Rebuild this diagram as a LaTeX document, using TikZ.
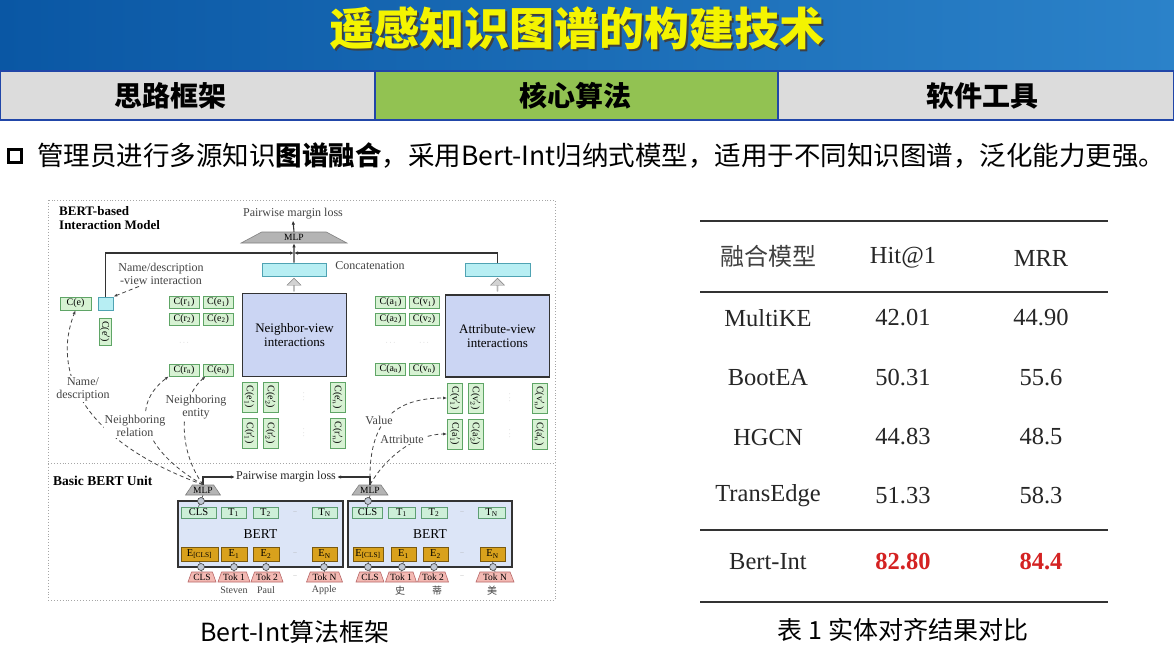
\documentclass[tikz,border=0pt]{standalone}
\usepackage{fontspec}
\setmainfont{Liberation Serif}
\newfontfamily\cjk{Noto Sans CJK SC}
\usetikzlibrary{shapes.geometric,shapes.arrows,arrows.meta,calc}

\newcommand\fsz[2]{\fontsize{#1}{#2}\selectfont}

\definecolor{barA}{HTML}{0A57A4}
\definecolor{barB}{HTML}{2B82C9}
\definecolor{tabblue}{HTML}{2146A8}
\definecolor{tabgray}{HTML}{DCDCDC}
\definecolor{tabgreen}{HTML}{92C252}
\definecolor{ttl}{HTML}{F4F400}
\definecolor{gfill}{HTML}{D7F2D3}
\definecolor{gline}{HTML}{5FA566}
\definecolor{cfill}{HTML}{B7EEF3}
\definecolor{cline}{HTML}{4FA3B3}
\definecolor{vfill}{HTML}{CBD5F3}
\definecolor{bfill}{HTML}{DCE5F7}
\definecolor{tfill}{HTML}{CDEFD8}
\definecolor{tline}{HTML}{5E9E74}
\definecolor{efill}{HTML}{D9A11C}
\definecolor{eline}{HTML}{7A5A10}
\definecolor{kfill}{HTML}{F3B9B3}
\definecolor{kline}{HTML}{B86868}
\definecolor{mfill}{HTML}{B4B4B4}
\definecolor{ink}{HTML}{333333}
\definecolor{soft}{HTML}{444444}
\definecolor{hot}{HTML}{D42222}

\begin{document}
\begin{tikzpicture}[x=1pt,y=-1pt,
  lbl/.style={font=\fsz{12}{13}, text=soft, inner sep=1pt},
  dlbl/.style={lbl, fill=white, align=center},
  gbox/.style={draw=gline, fill=gfill, line width=0.6pt, minimum width=30, minimum height=12, inner sep=0pt, font=\fsz{10}{10}},
  vbox/.style={gbox, rotate=-90, minimum width=30, minimum height=15},
  cyanbar/.style={draw=cline, fill=cfill, line width=0.7pt, inner sep=0pt},
  viewbox/.style={draw=ink, fill=vfill, line width=1.3pt, align=center, font=\fsz{13}{14}, inner sep=0pt},
  bertbox/.style={draw=ink, fill=bfill, line width=1.3pt, inner sep=0pt, font=\fsz{13.5}{13.5}},
  tbox/.style={draw=tline, fill=tfill, line width=0.6pt, minimum height=11, inner sep=0pt, font=\fsz{10.5}{10.5}},
  ebox/.style={draw=eline, fill=efill, line width=0.6pt, minimum height=14, inner sep=0pt, font=\fsz{10.5}{10.5}},
  tok/.style={trapezium, trapezium stretches=true, trapezium angle=65, draw=kline, fill=kfill, line width=0.6pt, minimum height=10, inner sep=0pt, font=\fsz{9.5}{9.5}},
  mlp/.style={trapezium, trapezium stretches=true, trapezium angle=45, draw=gray, fill=mfill, line width=0.6pt, inner sep=0pt, font=\fsz{9.5}{9.5}},
  circ/.style={circle, draw=soft, fill=bfill!70!gray, line width=0.6pt, minimum size=7, inner sep=0pt},
  uparrow/.style={single arrow, draw=gray, fill=gray!35, rotate=90, minimum height=13, minimum width=14, single arrow head extend=2.5, inner sep=0pt},
  conn/.style={draw=ink, line width=1.1pt},
  dconn/.style={draw=soft, line width=0.8pt, dashed, dash pattern=on 4pt off 3pt, -{Latex[length=4pt,width=3pt]}},
  gdots/.style={text=gray!60, font=\fsz{7}{7}, inner sep=0pt},
  word/.style={font=\fsz{10}{10}, text=soft},
  cell/.style={font=\fsz{24.5}{25}, text=black!85},
  rule/.style={draw=black!80, line width=1.2pt},
  framedot/.style={draw=gray!70, dotted, line width=0.9pt}
]
\useasboundingbox (0,0) rectangle (1174,659);
\fill[white] (0,0) rectangle (1174,659);

% ---------- title bar ----------
\shade[left color=barA, right color=barB] (0,0) rectangle (1174,70);
\node[font=\cjk\bfseries\fsz{45}{46}, text=black!75] (titleshade) at (579,30) {遥感知识图谱的构建技术};
\node[font=\cjk\bfseries\fsz{45}{46}, text=ttl] (title) at (577,28) {遥感知识图谱的构建技术};

% ---------- tab row ----------
\filldraw[fill=tabgray, draw=tabblue, line width=2pt] (0,71) rectangle (375,120);
\filldraw[fill=tabgreen, draw=tabblue, line width=2pt] (375,71) rectangle (778,120);
\filldraw[fill=tabgray, draw=tabblue, line width=2pt] (778,71) rectangle (1174,120);
\node[font=\cjk\bfseries\fsz{28}{29}] (tabA) at (170,96) {思路框架};
\node[font=\cjk\bfseries\fsz{28}{29}] (tabB) at (575,96) {核心算法};
\node[font=\cjk\bfseries\fsz{28}{29}] (tabC) at (982,96) {软件工具};

% ---------- bullet line ----------
\node[draw=black, line width=2.6pt, minimum size=13, inner sep=0pt] (bul) at (15,156) {};
\node[anchor=west, font=\cjk\fsz{26.5}{28}, inner sep=0pt] (btxt) at (37,156)
  {管理员进行多源知识\textbf{图谱融合}，采用Bert-Int归纳式模型，适用于不同知识图谱，泛化能力更强。};

% ---------- framework figure ----------
\draw[framedot] (48,200) rectangle (555,600);
\draw[framedot] (48,463) -- (555,463);

\node[anchor=north west, align=left, font=\bfseries\fsz{13}{14}, inner sep=0pt] (hdr) at (59,206) {BERT-based\\Interaction Model};
\node[anchor=west, font=\bfseries\fsz{13.5}{14}, inner sep=0pt] (hdr2) at (53,481) {Basic BERT Unit};

% top MLP and loss
\node[lbl] (ploss) at (293,214) {Pairwise margin loss};
\node[mlp, minimum width=106, minimum height=11] (mlpT) at (294,237.5) {MLP};
\draw[conn, -{Latex[length=4pt,width=3.5pt]}] (mlpT.north) -- (ploss.south);

% concatenation bars
\node[cyanbar, minimum width=64, minimum height=13] (catL) at (294,269.5) {};
\node[cyanbar, minimum width=65, minimum height=13] (catR) at (497.5,269.5) {};
\node[lbl] (catlbl) at (370,266) {Concatenation};

% entity name view
\node[gbox, minimum width=31, minimum height=13] (ce) at (75.5,303.5) {C(e)};
\node[cyanbar, minimum width=15, minimum height=13] (sq) at (105.5,303.5) {};
\node[gbox, rotate=-90, minimum width=27, minimum height=12] (cep) at (105,331.5) {C(e$'$)};
\node[lbl, align=center] (nvi) at (161,273.5) {Name/description\\-view interaction};

\coordinate (jn) at (294,253);
\draw[conn, -{Latex[length=4pt,width=3.5pt]}] (catL.north) -- (mlpT.south);
\draw[conn, -{Latex[length=4pt,width=3.5pt]}] (sq.north) |- (jn);
\draw[conn, -{Latex[length=4pt,width=3.5pt]}] (catR.north) |- (jn);
\draw[dconn] ($(nvi.south)+(-22,1)$) -- (sq.north east);

% view boxes
\node[viewbox, minimum width=104, minimum height=83] (nview) at (294.5,335) {Neighbor-view\\interactions};
\node[viewbox, minimum width=104, minimum height=82] (aview) at (497.5,336) {Attribute-view\\interactions};
\node[uparrow] (upL) at (294,285) {};
\node[uparrow] (upR) at (497.5,285) {};

% neighbour inputs
\node[gbox] (cr1) at (184,302.5) {C(r\textsubscript{1})};
\node[gbox] (ce1) at (218,302.5) {C(e\textsubscript{1})};
\node[gbox] (cr2) at (184,319) {C(r\textsubscript{2})};
\node[gbox] (ce2) at (218,319) {C(e\textsubscript{2})};
\node[gdots] (nd1) at (184,343) {$\cdots$};
\node[gbox] (crn) at (184,370) {C(r\textsubscript{n})};
\node[gbox] (cen) at (218,370) {C(e\textsubscript{n})};

% attribute inputs
\node[gbox] (ca1) at (390.5,302.5) {C(a\textsubscript{1})};
\node[gbox] (cv1) at (424,302.5) {C(v\textsubscript{1})};
\node[gbox] (ca2) at (390.5,319) {C(a\textsubscript{2})};
\node[gbox] (cv2) at (424,319) {C(v\textsubscript{2})};
\node[gdots] (ad1) at (390.5,343) {$\cdots$};
\node[gdots] (ad2) at (424,343) {$\cdots$};
\node[gbox] (can) at (390.5,369) {C(a\textsubscript{n})};
\node[gbox] (cvn) at (424,369) {C(v\textsubscript{n})};

% counterpart neighbours
\node[vbox] (ep1) at (249.5,397) {C(e$'_1$)};
\node[vbox] (ep2) at (270.5,397) {C(e$'_2$)};
\node[gdots, rotate=90] (epd) at (304,397) {$\cdots$};
\node[vbox] (epn) at (337.5,397) {C(e$'_n$)};
\node[vbox] (rp1) at (249.5,433) {C(r$'_1$)};
\node[vbox] (rp2) at (270.5,433) {C(r$'_2$)};
\node[gdots, rotate=90] (rpd) at (304,433) {$\cdots$};
\node[vbox] (rpn) at (337.5,433) {C(r$'_n$)};

% counterpart attributes
\node[vbox] (vp1) at (455,398) {C(v$'_1$)};
\node[vbox] (vp2) at (475.5,398) {C(v$'_2$)};
\node[gdots, rotate=90] (vpd) at (510,398) {$\cdots$};
\node[vbox] (vpn) at (539.5,398) {C(v$'_n$)};
\node[vbox] (ap1) at (455,434) {C(a$'_1$)};
\node[vbox] (ap2) at (475.5,434) {C(a$'_2$)};
\node[gdots, rotate=90] (apd) at (510,434) {$\cdots$};
\node[vbox] (apn) at (539.5,434) {C(a$'_n$)};

% ---------- basic BERT units ----------
\node[mlp, minimum width=35, minimum height=10] (mlpL) at (203,490) {MLP};
\node[mlp, minimum width=36, minimum height=10] (mlpR) at (370,490) {MLP};
\node[lbl, text=black!85] (ploss2) at (286,477) {Pairwise margin loss};
\draw[conn, -{Latex[length=4pt,width=3.5pt]}] (mlpL.north) |- (ploss2.west);
\draw[conn, -{Latex[length=4pt,width=3.5pt]}] (mlpR.north) |- (ploss2.east);

\node[bertbox, minimum width=165, minimum height=66] (bertL) at (260.5,534) {BERT};
\node[bertbox, minimum width=164, minimum height=66] (bertR) at (430,534) {BERT};

% left unit
\node[tbox, minimum width=35] (tL0) at (198.5,512.5) {CLS};
\node[tbox, minimum width=25] (tL1) at (233.5,512.5) {T\textsubscript{1}};
\node[tbox, minimum width=25] (tL2) at (265.5,512.5) {T\textsubscript{2}};
\node[gdots] (tLd) at (295,512.5) {--};
\node[tbox, minimum width=25] (tLn) at (324.5,512.5) {T\textsubscript{N}};
\node[ebox, minimum width=37] (eL0) at (199.5,554) {E\textsubscript{[CLS]}};
\node[ebox, minimum width=26] (eL1) at (234,554) {E\textsubscript{1}};
\node[ebox, minimum width=26] (eL2) at (266,554) {E\textsubscript{2}};
\node[gdots] (eLd) at (295,554) {--};
\node[ebox, minimum width=25] (eLn) at (324.5,554) {E\textsubscript{N}};
\node[tok, minimum width=28] (kL0) at (202,577) {CLS};
\node[tok, minimum width=32] (kL1) at (234,577) {Tok 1};
\node[tok, minimum width=32] (kL2) at (267,577) {Tok 2};
\node[gdots] (kLd) at (295,577) {--};
\node[tok, minimum width=36] (kLn) at (324.5,577) {Tok N};
\node[word] (wL1) at (234,590.5) {Steven};
\node[word] (wL2) at (266,590.5) {Paul};
\node[word] (wLn) at (324,590.5) {Apple};

% right unit
\node[tbox, minimum width=30] (tR0) at (367.5,512.5) {CLS};
\node[tbox, minimum width=27] (tR1) at (401.5,512.5) {T\textsubscript{1}};
\node[tbox, minimum width=26] (tR2) at (434,512.5) {T\textsubscript{2}};
\node[gdots] (tRd) at (462,512.5) {--};
\node[tbox, minimum width=27] (tRn) at (491.5,512.5) {T\textsubscript{N}};
\node[ebox, minimum width=30] (eR0) at (368,554) {E\textsubscript{[CLS]}};
\node[ebox, minimum width=25] (eR1) at (403.5,554) {E\textsubscript{1}};
\node[ebox, minimum width=25] (eR2) at (435.5,554) {E\textsubscript{2}};
\node[gdots] (eRd) at (462,554) {--};
\node[ebox, minimum width=25] (eRn) at (492.5,554) {E\textsubscript{N}};
\node[tok, minimum width=28] (kR0) at (370,577) {CLS};
\node[tok, minimum width=31] (kR1) at (401,577) {Tok 1};
\node[tok, minimum width=31] (kR2) at (433,577) {Tok 2};
\node[gdots] (kRd) at (462,577) {--};
\node[tok, minimum width=38] (kRn) at (495,577) {Tok N};
\node[word, font=\cjk\fsz{10}{10}] (wR1) at (400,590.5) {史};
\node[word, font=\cjk\fsz{10}{10}] (wR2) at (437,590.5) {蒂};
\node[word, font=\cjk\fsz{10}{10}] (wRn) at (492,590.5) {美};

% joints between layers
\foreach \e/\k in {eL0/kL0,eL1/kL1,eL2/kL2,eLn/kLn,eR0/kR0,eR1/kR1,eR2/kR2,eRn/kRn}
  \draw[draw=soft, line width=0.6pt] (\e.south) -- (\k.north);
\draw[draw=soft, line width=0.6pt] (mlpL.south) -- (tL0.north);
\draw[draw=soft, line width=0.6pt] (mlpR.south) -- (tR0.north);
\node[circ] (jL) at (201,501) {};
\node[circ] (jR) at (368,501) {};
\node[circ] (jL0) at (201,567) {};
\node[circ] (jL1) at (234,567) {};
\node[circ] (jL2) at (266,567) {};
\node[circ] (jLn) at (324,567) {};
\node[circ] (jR0) at (368,567) {};
\node[circ] (jR1) at (402,567) {};
\node[circ] (jR2) at (434,567) {};
\node[circ] (jRn) at (493,567) {};

% dashed input links
\draw[dconn] (mlpL.north) .. controls (80,440) and (52,370) .. (ce.south);
\draw[dconn] (mlpL.north) .. controls (150,455) and (125,410) .. (crn.south west);
\draw[dconn] (mlpL.north) .. controls (178,450) and (178,400) .. ($(cen.south west)+(3,0)$);
\draw[dconn] (mlpR.north) .. controls (368,420) and (395,398) .. (vp1.south);
\draw[dconn] (mlpR.north) .. controls (385,458) and (415,434) .. (ap1.south);
\node[dlbl] (ndesc) at (83,389) {Name/\\description};
\node[dlbl] (nrel) at (135,426) {Neighboring\\relation};
\node[dlbl] (nent) at (196,407) {Neighboring\\entity};
\node[dlbl] (val) at (379,420) {Value};
\node[dlbl] (attr) at (402,439) {Attribute};

\node[font=\cjk\fsz{25}{26}] (figcap) at (295,632) {Bert-Int算法框架};

% ---------- result table ----------
\draw[rule] (700,221) -- (1108,221);
\draw[rule] (700,292) -- (1108,292);
\draw[rule] (700,530) -- (1108,530);
\draw[rule] (700,602) -- (1108,602);

\node[cell, font=\cjk\fsz{24}{25}, text=black!75] (h1) at (768,256) {融合模型};
\node[cell] (h2) at (903,258) {Hit@1};
\node[cell] (h3) at (1041,258) {MRR};

\node[cell] (m1) at (768,318) {MultiKE};
\node[cell] (a1) at (903,318) {42.01};
\node[cell] (b1) at (1041,318) {44.90};
\node[cell] (m2) at (768,378) {BootEA};
\node[cell] (a2) at (903,378) {50.31};
\node[cell] (b2) at (1041,378) {55.6};
\node[cell] (m3) at (768,437) {HGCN};
\node[cell] (a3) at (903,437) {44.83};
\node[cell] (b3) at (1041,437) {48.5};
\node[cell] (m4) at (768,496) {TransEdge};
\node[cell] (a4) at (903,496) {51.33};
\node[cell] (b4) at (1041,496) {58.3};
\node[cell] (m5) at (768,562) {Bert-Int};
\node[cell, text=hot, font=\bfseries\fsz{24.5}{25}] (a5) at (903,562) {82.80};
\node[cell, text=hot, font=\bfseries\fsz{24.5}{25}] (b5) at (1041,562) {84.4};

\node[font=\cjk\fsz{25}{26}] (tabcap) at (903,630) {表 1 实体对齐结果对比};
\end{tikzpicture}
\end{document}
